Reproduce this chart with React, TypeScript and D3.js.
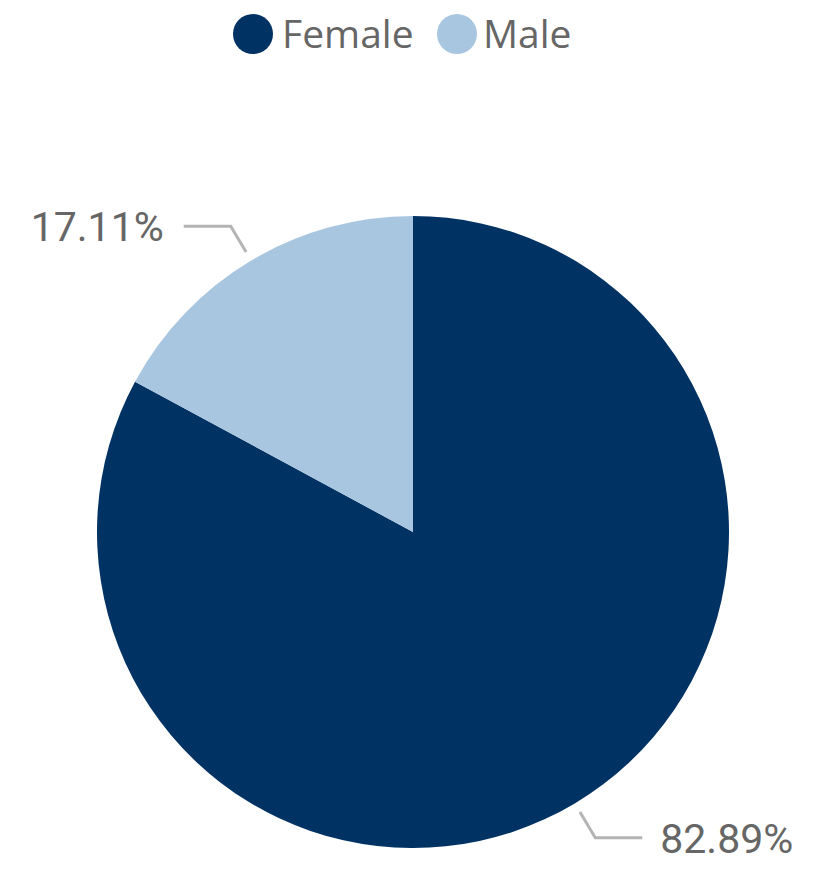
import { useEffect, useRef } from "react";
import * as d3 from "d3";

const categories = ["Female", "Male"];
const percents = [82.89, 17.11];
const colors = ["#003263", "#A8C6E0"];

interface Slice {
  label: string;
  value: number;
}

export default function App() {
  const ref = useRef<SVGSVGElement | null>(null);

  useEffect(() => {
    const svg = d3.select(ref.current);
    const width = 830;
    const height = 890;
    const cx = 413;
    const cy = 532;
    const radius = 316;

    svg.selectAll("*").remove();
    svg.attr("width", width).attr("height", height);

    const data: Slice[] = categories.map((c, i) => ({ label: c, value: percents[i] }));

    const color = d3.scaleOrdinal<string, string>().domain(categories).range(colors);

    const pie = d3
      .pie<Slice>()
      .sort(null)
      .value((d) => d.value);
    const arcs = pie(data);

    const arc = d3.arc<d3.PieArcDatum<Slice>>().innerRadius(0).outerRadius(radius);

    const g = svg.append("g").attr("transform", `translate(${cx}, ${cy})`);

    g.selectAll("path")
      .data(arcs)
      .enter()
      .append("path")
      .attr("d", arc)
      .attr("fill", (d) => color(d.data.label));

    // leader lines + labels
    const lineStart = d3.arc<d3.PieArcDatum<Slice>>().innerRadius(radius + 10).outerRadius(radius + 10);
    const lineElbow = d3.arc<d3.PieArcDatum<Slice>>().innerRadius(radius + 40).outerRadius(radius + 40);

    arcs.forEach((d) => {
      const [x0, y0] = lineStart.centroid(d);
      const [x1, y1] = lineElbow.centroid(d);
      const mid = (d.startAngle + d.endAngle) / 2;
      const right = mid < Math.PI;
      const x2 = x1 + (right ? 47 : -47);
      g.append("polyline")
        .attr("points", `${x0},${y0} ${x1},${y1} ${x2},${y1}`)
        .attr("fill", "none")
        .attr("stroke", "#B4B4B4")
        .attr("stroke-width", 3);
      g.append("text")
        .attr("x", x2 + (right ? 18 : -20))
        .attr("y", y1)
        .attr("dy", "0.36em")
        .attr("text-anchor", right ? "start" : "end")
        .attr("font-family", "Roboto, sans-serif")
        .attr("font-size", 41)
        .attr("fill", "#666666")
        .text(`${d.data.value.toFixed(2)}%`);
    });

    // legend
    const legend = svg.append("g").attr("transform", "translate(253, 34)");
    const legendX = [0, 204];
    categories.forEach((c, i) => {
      const item = legend.append("g").attr("transform", `translate(${legendX[i]}, 0)`);
      item.append("circle").attr("r", 20).attr("fill", color(c));
      item
        .append("text")
        .attr("x", i === 0 ? 29 : 26)
        .attr("dy", "0.36em")
        .attr("font-family", "'Open Sans', sans-serif")
        .attr("font-size", 39)
        .attr("fill", "#666666")
        .text(c);
    });
  }, []);

  return (
    <svg
      ref={ref}
      style={{ position: "absolute", left: 0, top: 0, background: "#fff" }}
    ></svg>
  );
}
